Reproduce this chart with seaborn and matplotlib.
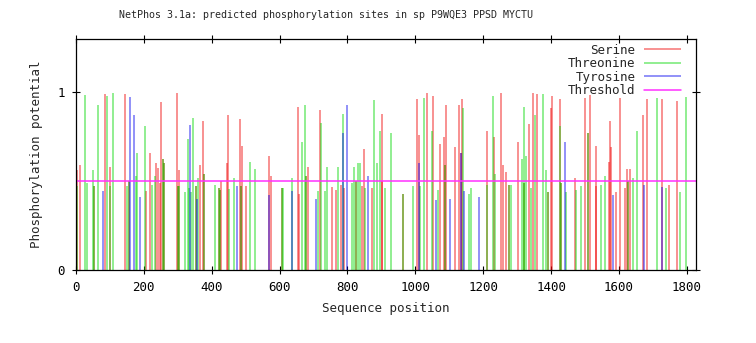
import matplotlib
matplotlib.use("Agg")
import matplotlib.pyplot as plt
import seaborn as sns
import pandas as pd

title = "NetPhos 3.1a: predicted phosphorylation sites in sp P9WQE3 PPSD MYCTU"
seq_len = 1827
threshold = 0.5
x_ticks = [0, 200, 400, 600, 800, 1000, 1200, 1400, 1600, 1800]
y_ticks = [0, 1]

ser_pos = [3, 11, 53, 85, 99, 144, 156, 206, 218, 237, 243, 247, 250, 255, 259, 297, 300,
           304, 353, 366, 373, 377, 420, 424, 428, 444, 448, 482, 486, 490, 501, 570, 575, 607,
           653, 656, 678, 685, 718, 754, 766, 781, 790, 826, 843, 849, 873, 901, 903,
           965, 1005, 1012, 1033, 1052, 1074, 1084, 1088, 1091, 1117, 1129, 1134, 1136, 1210,
           1231, 1251, 1258, 1267, 1275, 1303, 1319, 1334, 1347, 1359, 1391, 1399, 1403, 1425,
           1428, 1471, 1500, 1510, 1514, 1532,
           1533, 1570, 1574, 1577, 1590, 1602, 1617, 1625, 1628, 1632, 1671, 1684, 1727, 1747, 1771]
ser_score = [0.56, 0.59, 0.47, 0.99, 0.58, 0.99, 0.50, 0.445, 0.66, 0.60, 0.575, 0.49, 0.947, 0.625, 0.60, 0.995, 0.47,
             0.56, 0.47, 0.59, 0.84, 0.54, 0.46, 0.45, 0.50, 0.60, 0.87, 0.85, 0.47, 0.70, 0.47, 0.64, 0.53, 0.46,
             0.92, 0.43, 0.53, 0.58, 0.90, 0.465, 0.45, 0.48, 0.46, 0.50, 0.47, 0.68, 0.46, 0.50, 0.88,
             0.43, 0.96, 0.76, 0.995, 0.98, 0.71, 0.75, 0.59, 0.93, 0.69, 0.93, 0.66, 0.96, 0.78,
             0.75, 0.995, 0.59, 0.55, 0.48, 0.72, 0.49, 0.82, 0.995, 0.99, 0.44, 0.91, 0.98, 0.96,
             0.49, 0.52, 0.97, 0.77, 0.985, 0.47,
             0.70, 0.61, 0.84, 0.69, 0.44, 0.97, 0.46, 0.57, 0.50, 0.57, 0.87, 0.96, 0.96, 0.48, 0.95]

thr_pos = [4, 27, 31, 49, 53, 65, 92, 99, 110, 150, 156, 176, 180, 202, 225, 233, 255, 259, 300,
           304, 322, 329, 334, 340, 344, 353, 359, 377, 410, 420, 424, 452, 465, 486, 514, 526, 607,
           611, 637, 665, 676, 678, 712, 721, 734, 740, 773, 786, 813, 820, 826, 832, 837, 853, 877,
           887, 897, 911,
           929, 965, 994, 1015, 1025, 1050, 1066, 1088, 1139, 1158, 1165, 1212,
           1228, 1236, 1275, 1282, 1315, 1319, 1321, 1327, 1342, 1354, 1376, 1386, 1391, 1425, 1428,
           1445, 1474, 1487, 1510,
           1548, 1558, 1628, 1640, 1652, 1711, 1740, 1779, 1799]
thr_score = [0.47, 0.985, 0.49, 0.56, 0.47, 0.93, 0.98, 0.47, 0.995, 0.47, 0.50, 0.53, 0.66, 0.81, 0.48, 0.53, 0.625, 0.60, 0.47,
             0.47, 0.44, 0.74, 0.46, 0.44, 0.854, 0.47, 0.52, 0.54, 0.48, 0.46, 0.45, 0.455, 0.52, 0.47, 0.61, 0.57, 0.46,
             0.46, 0.52, 0.72, 0.93, 0.53, 0.445, 0.83, 0.445, 0.58, 0.58, 0.88, 0.49, 0.58, 0.50, 0.60, 0.60, 0.46, 0.955,
             0.60, 0.78, 0.46,
             0.77, 0.43, 0.47, 0.47, 0.966, 0.78, 0.45, 0.59, 0.91, 0.43, 0.46, 0.48,
             0.98, 0.54, 0.48, 0.48, 0.625, 0.49, 0.92, 0.64, 0.46, 0.87, 0.99, 0.56, 0.44, 0.81, 0.49,
             0.44, 0.45, 0.47, 0.77,
             0.48, 0.53, 0.50, 0.52, 0.78, 0.97, 0.46, 0.44, 0.975]

tyr_pos = [80, 160, 172, 189, 335, 356, 475, 570, 637, 708, 787, 799, 861,
           1010, 1060, 1101, 1134, 1142, 1189, 1441, 1582, 1673, 1726]
tyr_score = [0.445, 0.975, 0.87, 0.41, 0.816, 0.40, 0.47, 0.42, 0.445, 0.40, 0.77, 0.93, 0.53,
             0.60, 0.395, 0.40, 0.66, 0.445, 0.41, 0.72, 0.42, 0.48, 0.465]

df = pd.concat([
    pd.DataFrame({"position": ser_pos, "score": ser_score, "residue": "Serine"}),
    pd.DataFrame({"position": thr_pos, "score": thr_score, "residue": "Threonine"}),
    pd.DataFrame({"position": tyr_pos, "score": tyr_score, "residue": "Tyrosine"}),
])

sns.set_theme(style="white")
plt.rcParams['font.family'] = ['DejaVu Sans Mono']

palette = {"Serine": "#f00000", "Threonine": "#00d800", "Tyrosine": "#0000f0"}

fig = plt.figure(figsize=(7.56, 3.43), dpi=100)
ax = fig.add_axes([76 / 756, 1 - 270 / 343, 620 / 756, 231 / 343])

for res in ["Serine", "Threonine", "Tyrosine"]:
    sub = df[df["residue"] == res]
    ax.vlines(sub["position"], 0, sub["score"], colors=palette[res], alpha=0.55,
              linewidth=1.1, label=res)
ax.axhline(threshold, color="#ff30ff", linewidth=1.1, label="Threshold")

ax.set_xlim(0, seq_len)
ax.set_ylim(0, 1.3)
ax.set_xticks(x_ticks)
ax.set_yticks(y_ticks)
ax.tick_params(direction="inout", length=6, width=0.8, top=True, right=True,
               bottom=True, left=True, labelsize=9, colors="black", pad=5)
for s in ax.spines.values():
    s.set_color("black")
    s.set_linewidth(0.9)
    s.set_visible(True)

ax.set_xlabel("Sequence position", fontsize=9, labelpad=6)
ax.set_ylabel("Phosphorylation potential", fontsize=9, labelpad=10)
fig.text(326 / 756, 1 - 15 / 343, title, fontsize=7.2, ha="center", va="center")

leg = ax.legend(loc="upper right", bbox_to_anchor=(0.975, 0.98), frameon=False,
                markerfirst=False, fontsize=9, handlelength=2.9, handletextpad=0.7,
                labelspacing=0.05, borderpad=0, borderaxespad=0)
for t in leg.get_texts():
    t.set_ha("right")

fig.savefig("out.png", dpi=100)
